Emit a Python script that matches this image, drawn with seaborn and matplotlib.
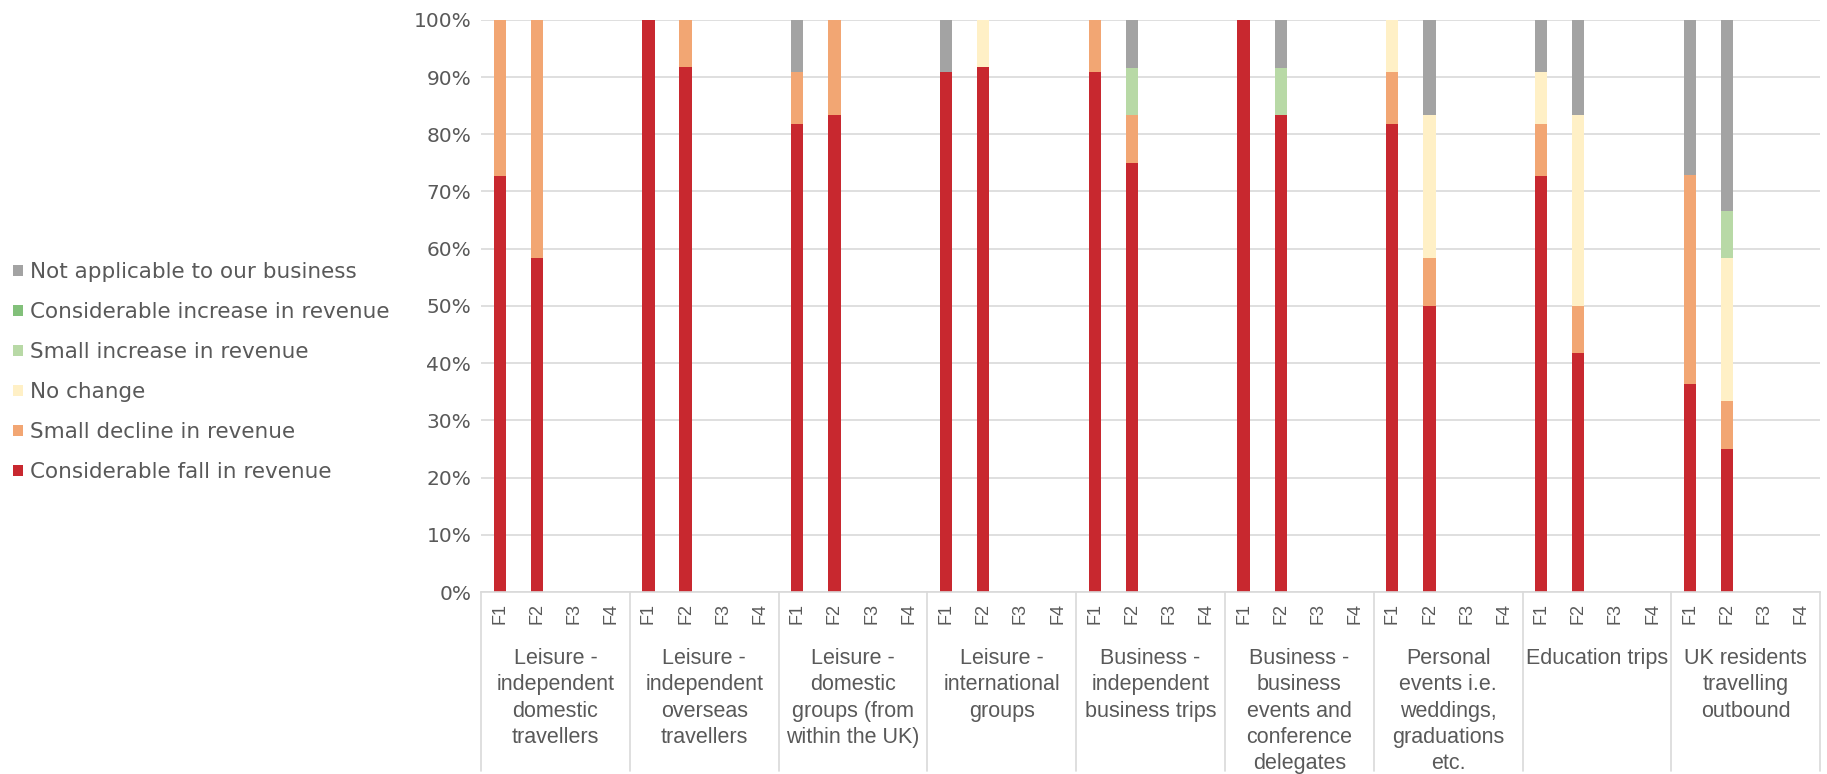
import pandas as pd
import matplotlib.pyplot as plt
import seaborn as sns
from matplotlib import font_manager
from matplotlib.patches import Patch
from matplotlib.lines import Line2D
import matplotlib.transforms as mtransforms

# Data (percent of respondents, F1 / F2 waves; F3 and F4 had no responses yet)
groups = [
    'Leisure -\nindependent\ndomestic\ntravellers',
    'Leisure -\nindependent\noverseas\ntravellers',
    'Leisure -\ndomestic\ngroups (from\nwithin the UK)',
    'Leisure -\ninternational\ngroups',
    'Business -\nindependent\nbusiness trips',
    'Business -\nbusiness\nevents and\nconference\ndelegates',
    'Personal\nevents i.e.\nweddings,\ngraduations\netc.',
    'Education trips',
    'UK residents\ntravelling\noutbound',
]
waves = ['F1', 'F2', 'F3', 'F4']

levels = [
    'Considerable fall in revenue',
    'Small decline in revenue',
    'No change',
    'Small increase in revenue',
    'Considerable increase in revenue',
    'Not applicable to our business',
]
colors = ['#C8282F', '#F2A673', '#FFF0C6', '#B8D9A6', '#82C07A', '#A3A3A3']

fall_f1 = [72.7, 100, 81.8, 90.9, 90.9, 100, 81.8, 72.7, 36.4]
fall_f2 = [58.3, 91.7, 83.3, 91.7, 75.0, 83.3, 50.0, 41.7, 25.0]
decline_f1 = [27.3, 0, 9.1, 0, 9.1, 0, 9.1, 9.1, 36.4]
decline_f2 = [41.7, 8.3, 16.7, 0, 8.3, 0, 8.3, 8.3, 8.3]
nochange_f1 = [0, 0, 0, 0, 0, 0, 9.1, 9.1, 0]
nochange_f2 = [0, 0, 0, 8.3, 0, 0, 25.0, 33.3, 25.0]
smallinc_f1 = [0, 0, 0, 0, 0, 0, 0, 0, 0]
smallinc_f2 = [0, 0, 0, 0, 8.3, 8.3, 0, 0, 8.3]
considinc_f1 = [0, 0, 0, 0, 0, 0, 0, 0, 0]
considinc_f2 = [0, 0, 0, 0, 0, 0, 0, 0, 0]
na_f1 = [0, 0, 9.1, 9.1, 0, 0, 0, 9.1, 27.3]
na_f2 = [0, 0, 0, 0, 8.3, 8.3, 16.7, 16.7, 33.3]

level_values = {
    levels[0]: (fall_f1, fall_f2),
    levels[1]: (decline_f1, decline_f2),
    levels[2]: (nochange_f1, nochange_f2),
    levels[3]: (smallinc_f1, smallinc_f2),
    levels[4]: (considinc_f1, considinc_f2),
    levels[5]: (na_f1, na_f2),
}

# long table: one row per group / wave / level
rows = []
for gi in range(len(groups)):
    for w in waves:
        for lvl in levels:
            f1, f2 = level_values[lvl]
            val = f1[gi] if w == 'F1' else f2[gi] if w == 'F2' else 0
            rows.append({'slot': f'{gi}|{w}', 'level': lvl, 'value': val})
df = pd.DataFrame(rows)
slots = [f'{gi}|{w}' for gi in range(len(groups)) for w in waves]

df['level'] = pd.Categorical(df['level'], categories=levels, ordered=True)
df = df.sort_values(['slot', 'level'])
df['cum'] = df.groupby('slot')['value'].cumsum()

# fonts
installed = {f.name for f in font_manager.fontManager.ttflist}
if 'Liberation Sans Narrow' in installed:
    cat_font, cat_size = 'Liberation Sans Narrow', 18
else:
    cat_font, cat_size = 'Liberation Sans', 15.5

sns.set_style('white')
plt.rcParams['font.family'] = ['DejaVu Sans']
text_grey = '#595959'

fig = plt.figure(figsize=(18.27, 7.74), dpi=100)
ax = fig.add_axes([0.2633, 0.2351, 0.7329, 0.7393])

# stacked bars: draw cumulative totals from the top layer down
for lvl, col in reversed(list(zip(levels, colors))):
    sub = df[df['level'] == lvl]
    sns.barplot(data=sub, x='slot', y='cum', order=slots, color=col,
                saturation=1, width=0.33, errorbar=None, linewidth=0, ax=ax)

ax.set_xlim(-0.5, len(slots) - 0.5)
ax.set_ylim(0, 100)
ax.set_yticks(range(0, 101, 10))
ax.set_yticklabels([f'{v}%' for v in range(0, 101, 10)], fontsize=14.5, color=text_grey)
ax.set_xticks(range(len(slots)))
ax.set_xticklabels(waves * len(groups), rotation=90, fontsize=13,
                   color=text_grey, family='Liberation Sans')
ax.tick_params(axis='x', length=0, pad=8)
ax.tick_params(axis='y', length=0, pad=7)
ax.set_xlabel('')
ax.set_ylabel('')
ax.yaxis.grid(True, color='#D9D9D9', linewidth=1.2)
ax.set_axisbelow(True)
for s in ['top', 'right', 'left']:
    ax.spines[s].set_visible(False)
ax.spines['bottom'].set_color('#D9D9D9')
ax.spines['bottom'].set_linewidth(1.2)

# group labels and separators under the axis
trans = mtransforms.blended_transform_factory(ax.transData, ax.transAxes)
for gi, name in enumerate(groups):
    ax.text(gi * 4 + 1.5, -0.098, name, transform=trans, ha='center', va='top',
            fontsize=cat_size, family=cat_font, color=text_grey, linespacing=1.33)
for gi in range(len(groups) + 1):
    ax.add_line(Line2D([gi * 4 - 0.5] * 2, [0, -0.313], transform=trans,
                       color='#D9D9D9', linewidth=1.2, clip_on=False))

# legend
handles = [Patch(facecolor=c, edgecolor='none', label=l)
           for l, c in zip(levels, colors)][::-1]
fig.legend(handles=handles, loc='center left', bbox_to_anchor=(0.0, 0.519),
           frameon=False, fontsize=15.5, labelcolor=text_grey,
           handlelength=0.45, handleheight=0.45, handletextpad=0.35,
           labelspacing=0.93, borderaxespad=0.2, borderpad=0.4)

plt.savefig('out.png', dpi=100)
